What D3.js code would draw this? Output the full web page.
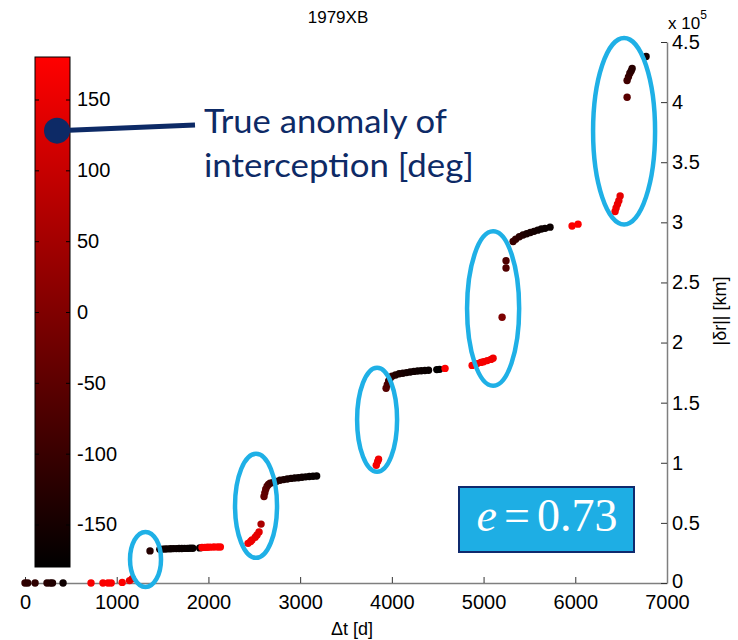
<!DOCTYPE html>
<html>
<head>
<meta charset="utf-8">
<script src="https://cdn.jsdelivr.net/npm/d3@7"></script>
<style>
  body { margin: 0; background: #fff; }
  svg { font-family: Arial, "Liberation Sans", sans-serif; }
</style>
</head>
<body>
<div id="chart"></div>
<script>
// data: time of flight [d], miss distance [km], true anomaly [deg]
var dtDays = [0, 30, 110, 240, 275, 300, 415,
  720, 850, 905, 940, 1060, 1140, 1170,
  1363, 1470, 1500, 1530, 1560, 1590, 1620, 1650, 1680, 1710, 1740, 1770, 1800, 1830, 1905,
  1930, 1960, 1990, 2020, 2060, 2100, 2130,
  2432, 2460, 2475, 2510, 2530, 2552, 2574,
  2606, 2615, 2625, 2640, 2655, 2672,
  2700, 2740, 2780, 2820, 2860, 2900, 2940, 2980, 3020, 3060, 3100, 3140, 3180,
  3830, 3845, 3855,
  3937, 3950, 3965, 3980, 4002,
  4040, 4080, 4120, 4160, 4200, 4240, 4280, 4320, 4360, 4400, 4490, 4520, 4580,
  4875, 4930, 4970, 5000, 5040, 5080, 5104,
  5202, 5245, 5245,
  5322, 5350, 5390, 5430, 5470, 5510, 5550, 5590, 5630, 5670, 5725,
  5965, 6030,
  6434, 6445, 6460, 6475, 6489,
  6565, 6565, 6580, 6595, 6610, 6620, 6772];

var missKm = [0, 0, 0, 0, 0, 0, 0,
  0, 0, 0, 0, 500, 2000, 3500,
  26700, 28000, 28200, 28300, 28400, 28500, 28600, 28600, 28700, 28700, 28800, 28800, 28900, 28900, 29200,
  29500, 29600, 29700, 29800, 29900, 30000, 30000,
  33000, 34500, 35800, 38000, 40000, 42500, 49000,
  72000, 75000, 78000, 80500, 82000, 83000,
  83500, 84500, 85500, 86000, 86500, 87000, 87300, 87600, 88000, 88300, 88600, 88800, 89000,
  98000, 101000, 103000,
  162000, 165000, 168000, 170000, 172000,
  173000, 174000, 174500, 175000, 175500, 176000, 176300, 176600, 176800, 177000, 177500, 177700, 178500,
  181000, 182500, 183500, 184000, 185000, 186000, 187000,
  221000, 262000, 268000,
  284000, 286000, 288000, 289500, 290500, 291500, 292500, 293500, 294500, 295000, 296000,
  297000, 298500,
  309000, 312000, 315000, 318000, 322000,
  404000, 418000, 421000, 424000, 426000, 428000, 438000];

var anomalyDeg = [-110, -120, -115, -125, -130, -135, -160,
  170, 172, 175, 176, 178, 150, 130,
  -130, -150, -155, -158, -160, -162, -163, -165, -165, -166, -168, -168, -170, -170, -175,
  175, 176, 177, 178, 178, 179, 179,
  165, 160, 155, 150, 145, 140, 60,
  -40, -45, -50, -60, -70, -80,
  -100, -120, -130, -140, -145, -150, -155, -158, -160, -165, -168, -170, -172,
  170, 165, 160,
  -60, -70, -80, -90, -110,
  -130, -140, -145, -150, -155, -158, -160, -163, -165, -168, -175, -178, 178,
  175, 172, 170, 168, 166, 164, 160,
  -5, -65, -70,
  -100, -110, -120, -130, -140, -145, -150, -155, -160, -163, -165,
  175, 178,
  165, 160, 155, 150, 145,
  -55, -90, -100, -110, -120, -125, -150];

var xTicks = [0, 1000, 2000, 3000, 4000, 5000, 6000, 7000];
var yTicks = [0, 50000, 100000, 150000, 200000, 250000, 300000, 350000, 400000, 450000];
var cbTicks = [-150, -100, -50, 0, 50, 100, 150];

// highlighted jumps: centre and half-widths in data units
var ringDt = [1314, 2519, 3839, 5104, 6532];
var ringKm = [19600, 64200, 135800, 228300, 375800];
var ringDtHalf = [169, 229, 218, 284, 338];
var ringKmHalf = [22900, 43300, 43300, 64200, 77500];

var svgWidth = 738;
var svgHeight = 640;

var svg = d3.select("#chart")
  .append("svg")
  .attr("width", svgWidth)
  .attr("height", svgHeight);

var x = d3.scaleLinear().domain([0, 7000]).range([25, 667]);
var y = d3.scaleLinear().domain([0, 450000]).range([583, 42]);
var cb = d3.scaleLinear().domain([-180, 180]).range([567, 57]);
var color = d3.scaleLinear().domain([-180, 180]).range(["#000000", "#ff0000"]);

var points = dtDays.map(function(d, i) {
  return {dt: d, r: missKm[i], nu: anomalyDeg[i]};
});

var plain = function(d) { return String(d); };

// axes
var xAxis = svg.append("g")
  .attr("transform", "translate(0, 583)")
  .call(d3.axisBottom(x).tickValues(xTicks).tickSizeInner(-6).tickSizeOuter(0).tickPadding(12)
    .tickFormat(plain));

var yAxis = svg.append("g")
  .attr("transform", "translate(667, 0)")
  .call(d3.axisRight(y).tickValues(yTicks).tickSizeInner(-6).tickSizeOuter(0).tickPadding(5)
    .tickFormat(function(d) { return String(d / 1e5); }));

[xAxis, yAxis].forEach(function(g) {
  g.select(".domain").attr("stroke", "#7f7f7f").attr("stroke-width", 1.5);
  g.selectAll(".tick line").attr("stroke", "#333");
  g.selectAll(".tick text").attr("fill", "#000")
    .style("font-size", "20px")
    .style("font-family", "Arial, 'Liberation Sans', sans-serif");
});
// lift the corner "0" a touch so it clears "7000"
yAxis.selectAll(".tick text").filter(d => d === 0).attr("dy", "0.2em");

// points
svg.append("g").selectAll("circle")
  .data(points)
  .enter()
  .append("circle")
  .attr("cx", d => x(d.dt))
  .attr("cy", d => y(d.r))
  .attr("r", 3.7)
  .attr("fill", d => color(d.nu));

// ellipses
svg.append("g").selectAll("ellipse")
  .data(ringDt)
  .enter()
  .append("ellipse")
  .attr("cx", d => x(d))
  .attr("cy", (d, i) => y(ringKm[i]))
  .attr("rx", (d, i) => x(ringDtHalf[i]) - x(0))
  .attr("ry", (d, i) => y(0) - y(ringKmHalf[i]))
  .attr("fill", "none")
  .attr("stroke", "#1fb0e6")
  .attr("stroke-width", 4.5);

// colorbar
var defs = svg.append("defs");
var grad = defs.append("linearGradient")
  .attr("id", "cbGrad")
  .attr("x1", 0).attr("y1", 1).attr("x2", 0).attr("y2", 0);
grad.append("stop").attr("offset", "0%").attr("stop-color", color(-180));
grad.append("stop").attr("offset", "100%").attr("stop-color", color(180));

svg.append("rect")
  .attr("x", 35)
  .attr("y", cb(180))
  .attr("width", 35)
  .attr("height", cb(-180) - cb(180))
  .attr("fill", "url(#cbGrad)")
  .attr("stroke", "#000")
  .attr("stroke-width", 1);

var cbAxis = svg.append("g")
  .attr("transform", "translate(70, 0)")
  .call(d3.axisRight(cb).tickValues(cbTicks).tickSizeInner(-4).tickSizeOuter(0).tickPadding(7)
    .tickFormat(plain));
cbAxis.select(".domain").remove();
cbAxis.selectAll(".tick line").attr("stroke", "#000");
cbAxis.selectAll(".tick text").attr("fill", "#000")
  .style("font-size", "20px")
  .style("font-family", "Arial, 'Liberation Sans', sans-serif");
cbAxis.selectAll(".tick").append("line")
  .attr("x1", -35).attr("x2", -31)
  .attr("stroke", "#000");

// titles and labels
svg.append("text")
  .attr("x", 338)
  .attr("y", 23)
  .attr("text-anchor", "middle")
  .style("font-size", "17px")
  .text("1979XB");

svg.append("text")
  .attr("x", 352)
  .attr("y", 635)
  .attr("text-anchor", "middle")
  .style("font-size", "18px")
  .text("\u0394t [d]");

svg.append("text")
  .attr("transform", "translate(726, 311) rotate(-90)")
  .attr("text-anchor", "middle")
  .style("font-size", "18px")
  .text("|\u03b4r|| [km]");

var mult = svg.append("text")
  .attr("x", 668)
  .attr("y", 29)
  .style("font-size", "17px");
mult.append("tspan").text("x 10");
mult.append("tspan").attr("dy", -10).style("font-size", "12px").text("5");

// callout for the colorbar
var navy = "#0d2a66";
svg.append("line")
  .attr("x1", 57).attr("y1", cb(128))
  .attr("x2", 195).attr("y2", cb(132))
  .attr("stroke", navy)
  .attr("stroke-width", 5);
svg.append("circle")
  .attr("cx", 57)
  .attr("cy", cb(128))
  .attr("r", 13)
  .attr("fill", navy);

var callout = svg.append("text")
  .style("font-family", "Lato, 'Open Sans', sans-serif")
  .style("font-size", "32px")
  .attr("fill", navy);
callout.append("tspan").attr("x", 204).attr("y", 133)
  .attr("textLength", 243).attr("lengthAdjust", "spacingAndGlyphs")
  .text("True anomaly of");
callout.append("tspan").attr("x", 204).attr("y", 177)
  .attr("textLength", 270).attr("lengthAdjust", "spacingAndGlyphs")
  .text("interception [deg]");

// eccentricity box
svg.append("rect")
  .attr("x", 459)
  .attr("y", 487)
  .attr("width", 175)
  .attr("height", 65)
  .attr("fill", "#1eaee4")
  .attr("stroke", "#0f2a6e")
  .attr("stroke-width", 2);

var eText = svg.append("text")
  .attr("x", 547)
  .attr("y", 531)
  .attr("text-anchor", "middle")
  .style("font-family", "'Liberation Serif', 'Times New Roman', serif")
  .style("font-size", "46px")
  .attr("fill", "#fff");
eText.append("tspan").style("font-style", "italic").text("e");
eText.append("tspan").attr("dx", 7).text("=");
eText.append("tspan").attr("dx", 7).text("0.73");
</script>
</body>
</html>
